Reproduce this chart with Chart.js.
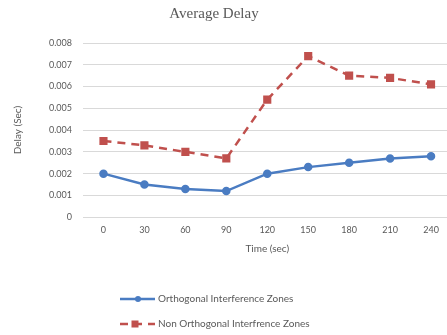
<!DOCTYPE html>
<html>
<head>
<meta charset="utf-8">
<script src="https://cdn.jsdelivr.net/npm/chart.js@4"></script>
<style>
  html, body { margin: 0; padding: 0; background: #fff; overflow: hidden; }
  #wrap { width: 458px; height: 335px; position: relative; }
</style>
</head>
<body>
<div id="wrap"><canvas id="chart"></canvas></div>
<script>
// Data
const timeLabels = ["0", "30", "60", "90", "120", "150", "180", "210", "240"];
const orthogonalDelay = [0.002, 0.0015, 0.0013, 0.0012, 0.002, 0.0023, 0.0025, 0.0027, 0.0028];
const nonOrthogonalDelay = [0.0035, 0.0033, 0.003, 0.0027, 0.0054, 0.0074, 0.0065, 0.0064, 0.0061];
const seriesNames = ["Orthogonal Interference Zones", "Non Orthogonal Interfrence Zones"];

const textGray = "#595959";
const gridGray = "#d9d9d9";

// Title and stacked legend drawn by hand, the way the original chart lays them out
const decorations = {
  id: "decorations",
  afterDraw(chart) {
    const ctx = chart.ctx;
    ctx.save();
    ctx.fillStyle = textGray;
    ctx.font = "15px 'Liberation Serif'";
    ctx.textAlign = "center";
    ctx.textBaseline = "middle";
    ctx.fillText("Average Delay", 214, 14);

    // legend rows
    const rows = [299, 324];
    chart.data.datasets.forEach((ds, i) => {
      const y = rows[i];
      ctx.strokeStyle = ds.borderColor;
      ctx.lineWidth = 2.5;
      ctx.setLineDash(ds.borderDash || []);
      ctx.beginPath();
      ctx.moveTo(120, y);
      ctx.lineTo(155, y);
      ctx.stroke();
      ctx.setLineDash([]);
      ctx.fillStyle = ds.pointBackgroundColor;
      if (ds.pointStyle === "rect") {
        ctx.fillRect(135 - 3.5, y - 3.5, 7, 7);
      } else {
        ctx.beginPath();
        ctx.arc(138, y, 3, 0, Math.PI * 2);
        ctx.fill();
      }
      ctx.fillStyle = textGray;
      ctx.font = "10px Lato";
      ctx.textAlign = "left";
      ctx.fillText(ds.label, 158, y);
    });
    ctx.restore();
  },
};

new Chart(document.getElementById("chart"), {
  type: "line",
  data: {
    labels: timeLabels,
    datasets: [
      {
        label: seriesNames[0],
        data: orthogonalDelay,
        borderColor: "#4a7cc2",
        backgroundColor: "#4a7cc2",
        pointBackgroundColor: "#4a7cc2",
        pointBorderColor: "#4a7cc2",
        borderWidth: 2.5,
        pointStyle: "circle",
        pointRadius: 3,
        tension: 0,
      },
      {
        label: seriesNames[1],
        data: nonOrthogonalDelay,
        borderColor: "#c0504d",
        backgroundColor: "#c0504d",
        pointBackgroundColor: "#c0504d",
        pointBorderColor: "#c0504d",
        borderWidth: 2.5,
        borderDash: [8, 6],
        pointStyle: "rect",
        pointRadius: 4,
        tension: 0,
      },
    ],
  },
  options: {
    responsive: true,
    maintainAspectRatio: false,
    animation: false,
    layout: {
      padding: { top: 43, bottom: 80, left: 12, right: 0 },
    },
    plugins: {
      legend: { display: false },
      title: { display: false },
      tooltip: { enabled: false },
    },
    scales: {
      x: {
        offset: true,
        grid: { display: false, drawTicks: false },
        border: { display: true, color: gridGray, width: 1 },
        ticks: { color: textGray, font: { family: "Lato", size: 9 }, padding: 7 },
        title: {
          display: true,
          text: "Time (sec)",
          color: textGray,
          font: { family: "Lato", size: 10 },
          padding: { top: 1, bottom: 0 },
        },
      },
      y: {
        min: 0,
        max: 0.008,
        grid: { color: gridGray, drawTicks: false },
        border: { display: false },
        ticks: {
          stepSize: 0.001,
          color: textGray,
          font: { family: "Lato", size: 9 },
          padding: 11,
          callback: (v) => (v === 0 ? "0" : v.toFixed(3)),
        },
        title: {
          display: true,
          text: "Delay (Sec)",
          color: textGray,
          font: { family: "Lato", size: 10 },
          padding: { top: 0, bottom: 14 },
        },
      },
    },
  },
  plugins: [decorations],
});
</script>
</body>
</html>
